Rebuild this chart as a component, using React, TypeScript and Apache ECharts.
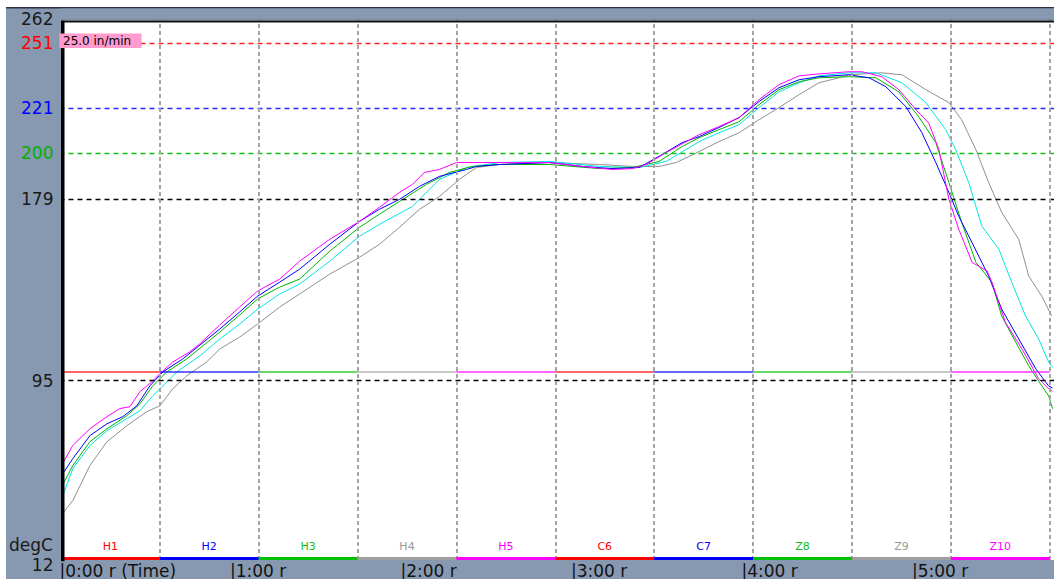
import React, { useEffect, useRef } from 'react';
import * as echarts from 'echarts';

// ---- data (time in minutes, temperature in degC) ----
const xTickLabels = ['|0:00 r (Time)', '|1:00 r', '|2:00 r', '|3:00 r', '|4:00 r', '|5:00 r'];
const yTickValues = [262, 251, 221, 200, 179, 95, 12];
const yTickColors = ['#1a1a1a', '#ff0000', '#0000ff', '#00b000', '#1a1a1a', '#1a1a1a', '#1a1a1a'];
const limitValues = [251, 221, 200, 179, 95];
const limitColors = ['#ff2020', '#2828ff', '#10c010', '#000000', '#000000'];
const zoneNames = ['H1', 'H2', 'H3', 'H4', 'H5', 'C6', 'C7', 'Z8', 'Z9', 'Z10'];
const zoneEdges = [0.5, 35.3, 70.1, 104.9, 139.7, 174.5, 209.3, 244.1, 278.9, 313.7, 348.5];
const zoneColors = ['#ff0000', '#0000ff', '#00c000', '#a0a0a0', '#ff00ff', '#ff0000', '#0000ff', '#00c000', '#a0a0a0', '#ff00ff'];
const zoneLabelColors = ['#ff0000', '#0000ff', '#10c010', '#999999', '#ff00ff', '#ff0000', '#0000ff', '#10c010', '#999999', '#ff00ff'];
const conveyorValue = 99;
const speedLabel = '25.0 in/min';
const unitLabel = 'degC';

const magenta = [
  [0.5, 55.2], [4.7, 65.0], [10.7, 72.7], [16.7, 78.3], [21.2, 82.0], [24.8, 82.9], [28.3, 89.8], [32.8, 94.8],
  [35.3, 98.1], [39.9, 103.6], [45.8, 108.2], [49.4, 112.0], [56.4, 120.7], [63.4, 129.0], [69.7, 136.4], [77.5, 141.9],
  [84.5, 150.2], [95.1, 160.3], [105.6, 168.6], [112.6, 175.1], [119.7, 182.0], [124.2, 185.7], [128.4, 191.2],
  [133.7, 192.6], [139.7, 195.8], [148.8, 195.8], [160.8, 195.8], [172.4, 195.8], [184.0, 194.0], [194.5, 192.6],
  [201.6, 193.0], [206.5, 194.9], [213.5, 200.4], [225.1, 208.7], [232.1, 212.4], [239.2, 216.6], [246.2, 224.9],
  [253.2, 231.8], [260.3, 235.9], [267.3, 236.8], [277.8, 237.8], [282.4, 237.8], [289.4, 235.5], [295.4, 229.5],
  [301.4, 220.2], [305.9, 214.1], [309.5, 201.8], [313.0, 178.8], [316.5, 164.9], [321.2, 149.6], [326.4, 145.7],
  [328.2, 140.3], [332.9, 121.9], [338.7, 109.6], [344.6, 95.8], [348.1, 91.2], [349.5, 90.0],
];
const blue = [
  [0.5, 50.6], [4.7, 58.9], [10.7, 69.5], [16.7, 75.0], [22.3, 78.3], [27.2, 83.3], [31.8, 92.5], [36.4, 99.0],
  [43.4, 105.0], [56.4, 118.8], [63.4, 126.7], [69.7, 134.0], [77.5, 140.5], [84.5, 146.5], [95.1, 158.0],
  [105.6, 168.6], [112.6, 174.2], [119.7, 178.8], [126.7, 184.8], [133.7, 189.4], [143.2, 192.6], [146.7, 194.0],
  [154.8, 194.9], [172.4, 195.8], [184.0, 194.0], [194.5, 193.0], [204.0, 193.5], [212.1, 199.5], [219.1, 205.0],
  [225.1, 207.8], [232.1, 212.0], [239.2, 216.6], [246.2, 224.0], [253.2, 230.4], [260.3, 234.1], [267.3, 235.5],
  [277.8, 236.4], [284.9, 235.0], [290.8, 230.9], [297.9, 221.6], [303.5, 209.6], [308.4, 195.8], [313.0, 182.0],
  [316.5, 170.9], [321.1, 158.9], [327.0, 143.3], [331.6, 128.0], [337.6, 114.2], [343.6, 100.4], [348.1, 92.5],
  [349.5, 91.5],
];
const green = [
  [0.5, 45.1], [4.7, 55.7], [10.7, 66.7], [16.7, 72.7], [23.7, 78.7], [28.3, 84.2], [32.8, 92.5], [37.8, 99.0],
  [44.8, 105.0], [56.4, 117.4], [63.4, 125.3], [69.7, 132.7], [77.5, 138.2], [84.5, 141.9], [95.1, 154.8],
  [105.6, 165.9], [112.6, 171.9], [119.7, 177.8], [129.1, 185.7], [137.2, 191.2], [145.3, 194.0], [154.8, 194.9],
  [172.4, 194.9], [190.0, 193.0], [201.6, 193.5], [211.0, 196.3], [219.1, 203.2], [225.1, 207.3], [232.1, 211.0],
  [239.2, 214.7], [246.2, 222.6], [253.2, 229.5], [260.3, 233.2], [267.3, 235.0], [277.8, 235.5], [287.3, 235.0],
  [295.4, 228.5], [302.4, 217.0], [308.4, 205.0], [313.0, 186.6], [317.5, 168.2], [322.5, 149.7], [328.1, 140.5],
  [331.6, 124.8], [336.5, 112.8], [341.1, 101.8], [345.7, 92.5], [348.1, 87.9], [349.5, 82.0],
];
const cyan = [
  [0.5, 39.5], [4.7, 54.3], [10.7, 64.9], [16.7, 71.8], [23.7, 77.4], [28.3, 81.0], [32.8, 87.9], [36.4, 92.5],
  [41.3, 99.0], [49.4, 106.4], [56.4, 114.2], [63.4, 121.1], [69.7, 128.0], [77.5, 135.0], [84.5, 139.6],
  [95.1, 150.2], [105.6, 161.7], [112.6, 167.2], [124.2, 175.5], [133.7, 188.0], [143.2, 193.5], [154.8, 195.8],
  [172.4, 196.3], [190.0, 194.0], [204.0, 193.5], [213.5, 196.3], [220.5, 201.8], [225.1, 205.5], [232.1, 209.6],
  [239.2, 213.3], [246.2, 221.2], [253.2, 228.5], [260.3, 232.7], [267.3, 235.9], [277.8, 237.3], [287.3, 237.3],
  [296.5, 232.7], [304.9, 223.5], [311.9, 211.0], [315.4, 201.8], [320.0, 186.6], [324.6, 166.4], [330.6, 155.7],
  [335.1, 140.5], [340.0, 124.8], [344.6, 114.2], [348.1, 103.6], [349.5, 101.0],
];
const gray = [
  [0.5, 32.6], [4.7, 39.5], [10.7, 55.7], [16.7, 66.7], [23.7, 74.1], [30.7, 80.6], [35.3, 83.3], [39.9, 91.2],
  [44.8, 97.2], [51.8, 103.6], [56.4, 109.6], [63.4, 115.1], [69.7, 121.1], [77.5, 129.0], [84.5, 135.0],
  [95.1, 144.2], [105.6, 152.0], [112.6, 158.0], [119.7, 165.9], [126.7, 174.2], [133.7, 180.1], [140.7, 188.0],
  [146.7, 193.5], [154.8, 194.9], [172.4, 195.8], [190.0, 194.9], [201.6, 194.0], [211.0, 194.0], [217.0, 195.8],
  [221.6, 198.6], [225.1, 200.9], [232.1, 205.5], [239.2, 209.6], [246.2, 215.6], [253.2, 221.2], [260.3, 227.2],
  [267.3, 232.7], [274.3, 235.0], [277.8, 236.4], [289.4, 237.3], [296.5, 236.4], [304.9, 229.5], [313.0, 223.5],
  [317.5, 215.6], [322.5, 201.8], [327.0, 186.6], [331.6, 172.8], [337.6, 160.3], [341.1, 143.3], [345.7, 134.0],
  [349.2, 124.8],
];

const curves = [
  { name: 'TC5', color: '#909090', data: gray },
  { name: 'TC4', color: '#00e5e5', data: cyan },
  { name: 'TC3', color: '#00b400', data: green },
  { name: 'TC2', color: '#0000ff', data: blue },
  { name: 'TC1', color: '#ff00ff', data: magenta },
];

const FONT = 'DejaVu Sans';
const PANEL = '#8799b0';

export default function App() {
  const ref = useRef<HTMLDivElement>(null);

  useEffect(() => {
    if (!ref.current) return;
    const chart = echarts.init(ref.current, undefined, { renderer: 'svg' });

    const gridMarks = [
      ...limitValues.map((v, i) => ({
        yAxis: v,
        lineStyle: { color: limitColors[i], type: [5, 4], width: 1.3 },
      })),
      ...zoneEdges.slice(1).map((e) => ({
        xAxis: e,
        lineStyle: { color: '#a4a4a4', type: [4, 3], width: 2 },
      })),
    ];

    const zoneMarks: any[] = [];
    zoneNames.forEach((n, i) => {
      zoneMarks.push([
        {
          coord: [zoneEdges[i], conveyorValue],
          lineStyle: { color: zoneColors[i], width: 2, type: 'solid', opacity: 0.6 },
          label: { show: false },
        },
        { coord: [zoneEdges[i + 1], conveyorValue] },
      ]);
    });
    zoneNames.forEach((n, i) => {
      zoneMarks.push([
        {
          coord: [zoneEdges[i], 12.65],
          name: n,
          lineStyle: { color: zoneColors[i], width: 3, type: 'solid', opacity: 1 },
          label: {
            show: true,
            position: 'insideMiddleTop',
            formatter: n,
            color: zoneLabelColors[i],
            fontSize: 11,
            fontFamily: FONT,
            distance: 7,
          },
        },
        { coord: [zoneEdges[i + 1], 12.65] },
      ]);
    });

    const option: any = {
      animation: false,
      backgroundColor: PANEL,
      grid: {
        left: 59.5,
        top: 19.4,
        width: 995,
        height: 542.3,
        show: true,
        backgroundColor: '#ffffff',
        borderWidth: 0,
      },
      xAxis: {
        type: 'value',
        min: 0,
        max: 350,
        interval: 60,
        axisLine: { show: false },
        axisTick: { show: false },
        splitLine: { show: false },
        axisLabel: {
          showMaxLabel: false,
          align: 'left',
          margin: 2,
          fontSize: 17,
          fontFamily: FONT,
          color: '#111111',
          formatter: (v: number) => {
            const idx = v / 60;
            return Number.isInteger(idx) && xTickLabels[idx] ? xTickLabels[idx] : '';
          },
        },
      },
      yAxis: {
        type: 'value',
        min: 12,
        max: 262,
        axisLine: { show: false },
        axisTick: { show: false },
        splitLine: { show: false },
        axisLabel: {
          customValues: yTickValues,
          margin: 6,
          fontSize: 17,
          fontFamily: FONT,
          color: (v: any) => {
            const i = yTickValues.indexOf(Number(v));
            return i >= 0 ? yTickColors[i] : '#1a1a1a';
          },
          formatter: (v: any) => (Number(v) === 12 ? '{low|12}' : String(v)),
          rich: {
            low: {
              padding: [9, 0, 0, 0],
              fontSize: 17,
              fontFamily: FONT,
              color: '#1a1a1a',
            },
          },
        },
      },
      series: [
        {
          type: 'line',
          name: 'grid',
          data: [],
          z: 1,
          silent: true,
          markLine: {
            silent: true,
            symbol: ['none', 'none'],
            animation: false,
            label: { show: false },
            data: gridMarks,
          },
        },
        {
          type: 'line',
          name: 'zones',
          data: [],
          z: 1,
          silent: true,
          markLine: {
            silent: true,
            symbol: ['none', 'none'],
            animation: false,
            data: zoneMarks,
          },
        },
        ...curves.map((c) => ({
          type: 'line',
          name: c.name,
          data: c.data,
          showSymbol: false,
          symbol: 'none',
          silent: true,
          z: 2,
          lineStyle: { color: c.color, width: 1 },
          itemStyle: { color: c.color },
        })),
      ],
      graphic: {
        elements: [
          { type: 'rect', z: 100, shape: { x: 0, y: 0, width: 1054, height: 7 }, style: { fill: '#ffffff' } },
          { type: 'rect', z: 100, shape: { x: 0, y: 0, width: 6, height: 579 }, style: { fill: '#ffffff' } },
          { type: 'rect', z: 100, shape: { x: 6, y: 7, width: 1048, height: 1.5 }, style: { fill: '#2b3340' } },
          { type: 'rect', z: 100, shape: { x: 61, y: 8.5, width: 993, height: 11 }, style: { fill: PANEL } },
          { type: 'rect', z: 100, shape: { x: 61, y: 19.5, width: 993, height: 1.3 }, style: { fill: '#5a677a' } },
          { type: 'rect', z: 100, shape: { x: 61, y: 20.8, width: 993, height: 1.8 }, style: { fill: '#101010' } },
          { type: 'rect', z: 100, shape: { x: 57, y: 19, width: 4, height: 543 }, style: { fill: PANEL } },
          { type: 'rect', z: 100, shape: { x: 61, y: 20.8, width: 3.5, height: 540.5 }, style: { fill: '#000000' } },
          { type: 'rect', z: 101, shape: { x: 59.5, y: 33.5, width: 82, height: 14.5 }, style: { fill: '#ff9ccd' } },
          {
            type: 'text',
            z: 102,
            x: 63,
            y: 41,
            style: {
              text: speedLabel,
              fill: '#000000',
              font: `12px "${FONT}"`,
              textAlign: 'left',
              textVerticalAlign: 'middle',
              align: 'left',
              verticalAlign: 'middle',
            },
          },
          {
            type: 'text',
            z: 102,
            x: 53,
            y: 545,
            style: {
              text: unitLabel,
              fill: '#1a1a1a',
              font: `17px "${FONT}"`,
              textAlign: 'right',
              textVerticalAlign: 'middle',
              align: 'right',
              verticalAlign: 'middle',
            },
          },
        ],
      },
    };

    chart.setOption(option);
    return () => chart.dispose();
  }, []);

  return (
    <div
      ref={ref}
      style={{ position: 'absolute', left: 0, top: 0, width: 1054, height: 579 }}
    />
  );
}
